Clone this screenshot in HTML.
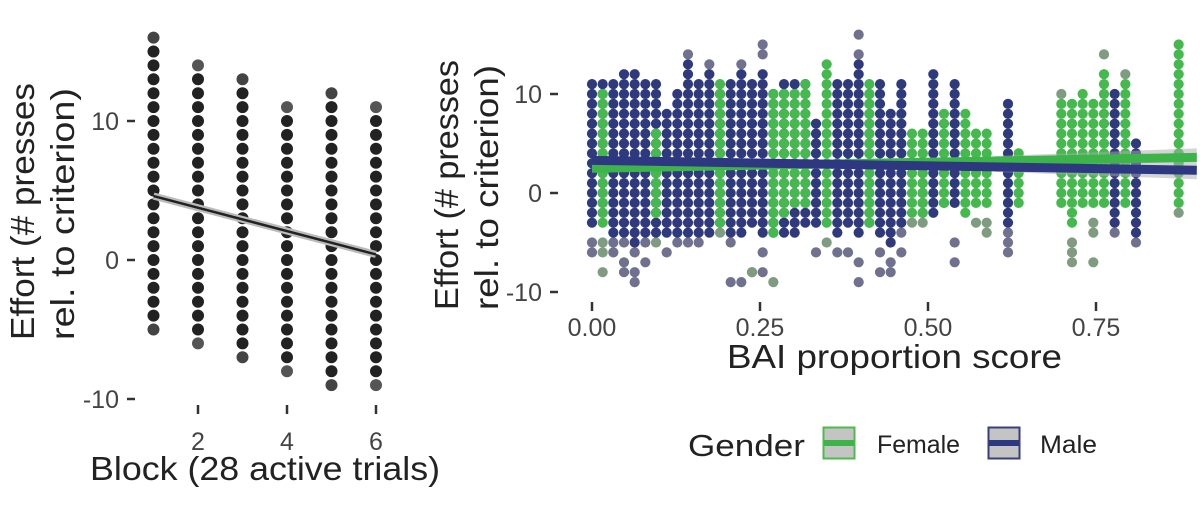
<!DOCTYPE html>
<html><head><meta charset="utf-8"><style>
html,body{margin:0;padding:0;background:#fff;width:1200px;height:511px;overflow:hidden}
svg{display:block;font-family:"Liberation Sans",sans-serif}
</style></head><body>
<svg id="chart" width="1200" height="511" viewBox="0 0 1200 511">
<g id="left"></g>
<g id="right"></g>
<g id="legend">
  <text x="688" y="456" font-size="31" textLength="117" lengthAdjust="spacingAndGlyphs" fill="#222">Gender</text>
  <g>
    <rect x="823.5" y="427.5" width="31" height="31" fill="#c4c4c4" stroke="#4cbb4c" stroke-width="2"/>
    <rect x="824" y="440" width="30" height="6" fill="#3cb44a"/>
    <text x="877" y="453" font-size="25" textLength="83" lengthAdjust="spacingAndGlyphs" fill="#222">Female</text>
  </g>
  <g>
    <rect x="988.5" y="427.5" width="31" height="31" fill="#c4c4c4" stroke="#3a3f7a" stroke-width="2"/>
    <rect x="989" y="440" width="30" height="6" fill="#2e3880"/>
    <text x="1040" y="453" font-size="25" textLength="57" lengthAdjust="spacingAndGlyphs" fill="#222">Male</text>
  </g>
</g>
</svg>
<script>
// ---------- LEFT PANEL DATA ----------
const blocks = [1,2,3,4,5,6];
const blockMin = [-5,-6,-7,-8,-9,-9];
const blockMax = [16,14,13,11,12,11];
const blockFit = [4.6, 0.4]; // fitted effort at block 1 and block 6
const leftYTicks = [10,0,-10];
const leftXTicks = [2,4,6];

// ---------- RIGHT PANEL DATA ----------
const maleK  = [0,1,2,3,4,5,6,7,8,9,10,11,12,13,14,15,16,17,18,19,20,21,23,24,25,26,27,28,29,31,32,34,39,49,51];
const maleLo = [-3,-2,-4,-4,-5,-4,-4,-4,-4,-4,-4,-4,-3,-4,-4,-3,-4,-4,-4,-4,-3,-3,-4,-3,-4,-3,-4,-5,-3,-2,-2,-1,-3,-3,-4];
const maleHi = [11,11,11,12,12,11,11,8,10,13,11,12,10,11,12,11,12,10,11,11,11,7,11,11,13,10,11,8,11,4,12,11,9,10,5];
const femK  = [1,6,12,17,18,19,20,22,26,30,31,33,35,36,37,40,44,45,46,47,48,50,55];
const femLo = [-3,-2,-3,-4,-2,-1,-1,-3,-3,-2,-2,-1,-2,-1,-1,-1,-1,-3,-1,-1,-1,-1,-1];
const femHi = [10,6,11,10,10,10,11,13,11,6,6,8,8,6,6,4,9,9,10,9,12,11,15];
const maleOutK = [0,0,2,2,3,3,3,4,4,4,5,5,7,8,9,10,13,13,14,15,16,16,16,21,23,24,25,25,25,27,27,28,28,29,29,34,34,39,39,39,49,51,9,11,14,16,25];
const maleOutV = [-5,-6,-5,-6,-5,-7,-8,-6,-8,-9,-5,-7,-6,-5,-5,-5,-5,-9,-9,-8,-6,-8,15,-6,-6,-6,-7,-9,14,-6,-8,-7,-8,-4,-6,-5,-7,-4,-5,-6,-4,-5,14,13,13,14,16];
const femOutK = [1,1,1,6,12,15,17,22,30,31,33,36,37,37,45,45,45,47,47,47,48,55,44,50];
const femOutV = [-5,-6,-8,-5,-4,-8,-9,-5,-3,-3,-1,-3,-3,-4,-5,-6,-7,-3,-4,-7,14,-2,10,12];
const maleFit = [3.3, 2.3];   // at BAI 0 and 0.9
const femFit  = [2.5, 3.6];
const rightYTicks = [10,0,-10];
const rightXTicks = [0,0.25,0.5,0.75];
const rightXLabels = ["0.00","0.25","0.50","0.75"];

const NS = "http://www.w3.org/2000/svg";
function mk(tag, attrs, parent){ const e=document.createElementNS(NS,tag); for(const k in attrs) e.setAttribute(k,attrs[k]); parent.appendChild(e); return e; }

// ---------- LEFT ----------
const L = document.getElementById('left');
const lx = b => 153.5 + (b-1)*44.5;
const ly = v => 260 - v*13.9;
blocks.forEach((b,i)=>{
  for(let v=blockMin[i]; v<=blockMax[i]; v++){
    let col = '#222';
    if(v===blockMax[i]||v===blockMin[i]) col = (i%2? '#555':'#444');
    const c = mk('circle',{cx:lx(b),cy:ly(v),r:6,fill:col},L);
    
    
  }
});
mk('line',{x1:lx(1),y1:ly(blockFit[0]),x2:lx(6),y2:ly(blockFit[1]),stroke:'#bbb','stroke-width':7},L);
const lfit = mk('line',{x1:lx(1),y1:ly(blockFit[0]),x2:lx(6),y2:ly(blockFit[1]),stroke:'#222','stroke-width':2.5},L);


leftYTicks.forEach(t=>{
  mk('line',{x1:127,x2:135,y1:ly(t),y2:ly(t),stroke:'#333','stroke-width':2.5},L);
  const tx = mk('text',{x:119,y:ly(t)+9,'text-anchor':'end','font-size':25,fill:'#444'},L);
  tx.textContent=t;
  
  
});
leftXTicks.forEach(t=>{
  mk('line',{x1:lx(t),x2:lx(t),y1:405,y2:414,stroke:'#333','stroke-width':2.5},L);
  const tx = mk('text',{x:lx(t),y:450,'text-anchor':'middle','font-size':25,fill:'#444'},L);
  tx.textContent=t;
  
  
});
let t1 = mk('text',{x:90,y:480,'font-size':33,textLength:350,lengthAdjust:'spacingAndGlyphs',fill:'#222'},L);
t1.textContent='Block (28 active trials)';


let t2 = mk('text',{transform:'translate(34,340) rotate(-90)','font-size':33,textLength:257,lengthAdjust:'spacingAndGlyphs',fill:'#222'},L);
t2.textContent='Effort (# presses';


let t3 = mk('text',{transform:'translate(74,340) rotate(-90)','font-size':33,textLength:252,lengthAdjust:'spacingAndGlyphs',fill:'#222'},L);
t3.textContent='rel. to criterion)';



// ---------- RIGHT ----------
const R = document.getElementById('right');
const cp = mk('clipPath',{id:'rc'},R);
mk('rect',{x:560,y:20,width:640,height:290},cp);
const RG = mk('g',{'clip-path':'url(#rc)'},R);
const rx = s => 592 + s*672;
const ry = v => 193 - v*9.9;
const kx = k => rx(k/63);
function cols(K,Lo,Hi,col,name){
  K.forEach((k,i)=>{
    for(let v=Lo[i]; v<=Hi[i]; v++){
      const c = mk('circle',{cx:kx(k),cy:ry(v),r:5.1,fill:col},RG);
      
      
    }
  });
}
function outs(K,V,col,name){
  K.forEach((k,i)=>{
    const c = mk('circle',{cx:kx(k),cy:ry(V[i]),r:5.1,fill:col},RG);
    
    
  });
}
outs(maleOutK,maleOutV,'#70718f','male-tail-dot');
outs(femOutK,femOutV,'#7f9c80','female-tail-dot');
cols(maleK,maleLo,maleHi,'#2f3a7c','male-dot');
cols(femK,femLo,femHi,'#45b84e','female-dot');
mk('polygon',{points:`${rx(0.6)},${ry(femFit[0]+(femFit[1]-femFit[0])*0.6/0.9)-5} ${rx(0.9)},${ry(femFit[1])-9} ${rx(0.9)},${ry(maleFit[1])+9} ${rx(0.6)},${ry(maleFit[0]+(maleFit[1]-maleFit[0])*0.6/0.9)+5}`,fill:'#aaa',opacity:0.5},RG);
const ff = mk('line',{x1:rx(0),y1:ry(femFit[0]),x2:rx(0.9),y2:ry(femFit[1]),stroke:'#3cb44a','stroke-width':9},RG);


const mf = mk('line',{x1:rx(0),y1:ry(maleFit[0]),x2:rx(0.9),y2:ry(maleFit[1]),stroke:'#2e3880','stroke-width':9},RG);


rightYTicks.forEach(t=>{
  mk('line',{x1:550,x2:558,y1:ry(t),y2:ry(t),stroke:'#333','stroke-width':2.5},R);
  const tx = mk('text',{x:542,y:ry(t)+9,'text-anchor':'end','font-size':25,fill:'#444'},R);
  tx.textContent=t;
  
  
});
rightXTicks.forEach((t,i)=>{
  mk('line',{x1:rx(t),x2:rx(t),y1:302,y2:311,stroke:'#333','stroke-width':2.5},R);
  const tx = mk('text',{x:rx(t),y:336,'text-anchor':'middle','font-size':25,fill:'#444'},R);
  tx.textContent=rightXLabels[i];
  
  
});
let r1 = mk('text',{x:727,y:368,'font-size':33,textLength:335,lengthAdjust:'spacingAndGlyphs',fill:'#222'},R);
r1.textContent='BAI proportion score';


let r2 = mk('text',{transform:'translate(458,310) rotate(-90)','font-size':33,textLength:250,lengthAdjust:'spacingAndGlyphs',fill:'#222'},R);
r2.textContent='Effort (# presses';


let r3 = mk('text',{transform:'translate(498,310) rotate(-90)','font-size':33,textLength:245,lengthAdjust:'spacingAndGlyphs',fill:'#222'},R);
r3.textContent='rel. to criterion)';


</script>
</body></html>
